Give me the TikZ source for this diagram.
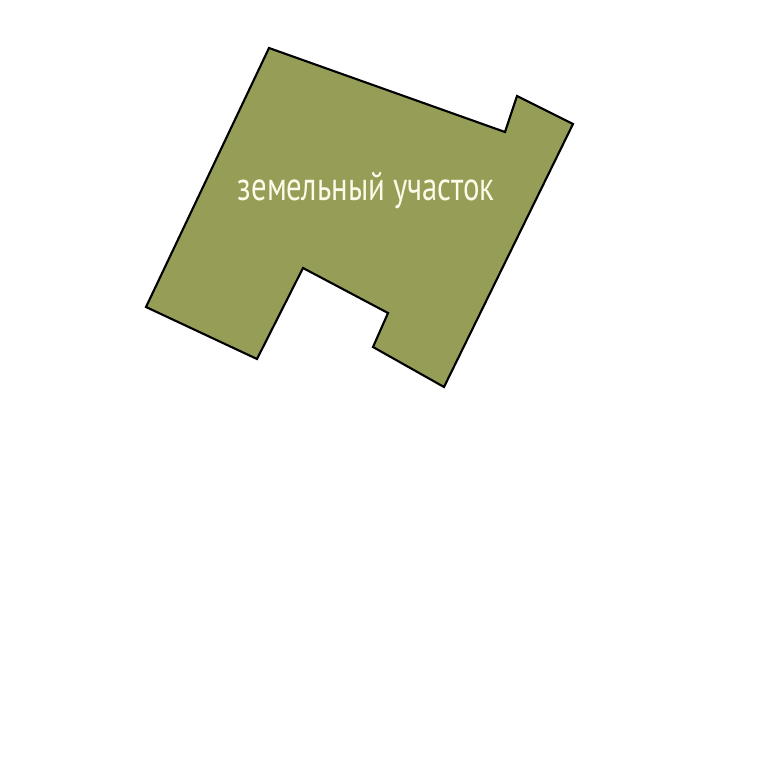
\documentclass[tikz,border=0pt]{standalone}
\usepackage{fontspec}
\newfontfamily\labelfont{PT Sans}
\definecolor{plotgreen}{RGB}{149,157,86}
\definecolor{labelcream}{RGB}{252,250,232}

\begin{document}
\begin{tikzpicture}[x=0.02cm,y=-0.02cm,
  plot/.style={fill=plotgreen,draw=black,line width=1.2pt,line join=miter},
  plotlabel/.style={text=labelcream,font=\labelfont\fontsize{23}{23}\selectfont,inner sep=0pt}]
\useasboundingbox (0,0) rectangle (768,768);

% corners of the plot
\coordinate (a) at (269,48);
\coordinate (b) at (505,132);
\coordinate (c) at (517,96);
\coordinate (d) at (573,124);
\coordinate (e) at (444,387);
\coordinate (f) at (373,347);
\coordinate (g) at (388,313);
\coordinate (h) at (303,268);
\coordinate (i) at (257,359);
\coordinate (j) at (146,307);

\draw[plot] (a) -- (b) -- (c) -- (d) -- (e) -- (f) -- (g) -- (h) -- (i) -- (j) -- cycle;

\node[plotlabel,xscale=0.76] (name) at (366,190) {земельный участок};

\end{tikzpicture}
\end{document}
